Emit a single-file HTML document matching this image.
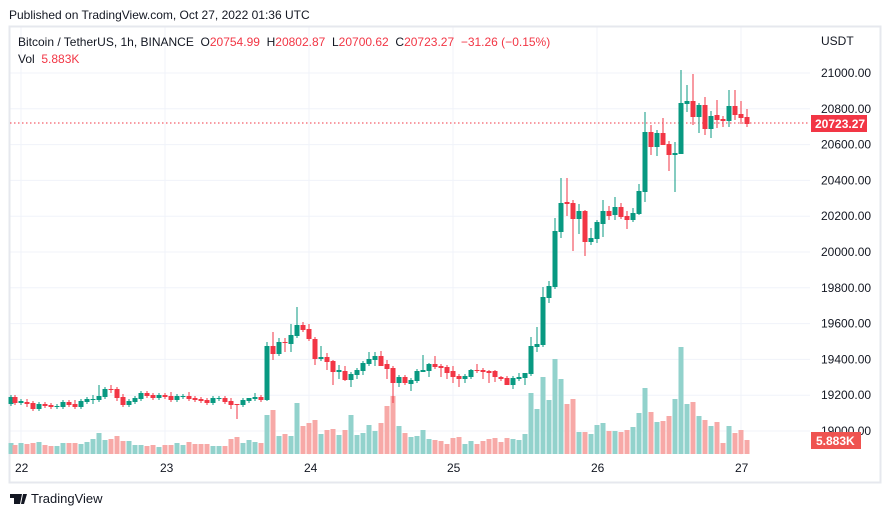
<!DOCTYPE html>
<html><head><meta charset="utf-8"><style>
body{margin:0;background:#fff;width:891px;height:517px;overflow:hidden;font-family:"Liberation Sans",sans-serif;}
svg text{font-family:"Liberation Sans",sans-serif;}
</style></head><body>
<svg id="s" width="891" height="517" xmlns="http://www.w3.org/2000/svg">
<rect x="0" y="0" width="891" height="517" fill="#fff"/>
<g id="grid"></g>
<rect x="9.5" y="26.5" width="871" height="456" fill="none" stroke="#e6e8ee" stroke-width="2"/>
<g id="vol"></g>
<line x1="10" y1="123" x2="810" y2="123" stroke="#f23645" stroke-width="1" stroke-dasharray="1.5,2.5"/>
<g id="cand"></g>
<text x="9" y="19" font-size="12" fill="#131722">Published on TradingView.com, Oct 27, 2022 01:36 UTC</text>
<text x="18" y="46" font-size="12" fill="#131722" xml:space="preserve">Bitcoin / TetherUS, 1h, BINANCE  O<tspan fill="#f23645">20754.99</tspan>  H<tspan fill="#f23645">20802.87</tspan>  L<tspan fill="#f23645">20700.62</tspan>  C<tspan fill="#f23645">20723.27</tspan>  <tspan fill="#f23645">−31.26 (−0.15%)</tspan></text>
<text x="18" y="63" font-size="12" fill="#131722" xml:space="preserve">Vol  <tspan fill="#f23645">5.883K</tspan></text>
<text x="821" y="45" font-size="12" fill="#131722">USDT</text>
<g id="plab" font-size="12" fill="#131722"></g>
<rect x="811" y="115" width="56" height="17" fill="#f23645"/>
<text x="815" y="128" font-size="12" font-weight="bold" fill="#fff">20723.27</text>
<rect x="811" y="432" width="50" height="17" fill="#ef5350"/>
<text x="816" y="445" font-size="12" font-weight="bold" fill="#fff">5.883K</text>
<g font-size="12" fill="#131722">
<text x="15" y="472">22</text><text x="160" y="472">23</text><text x="304" y="472">24</text>
<text x="447" y="472">25</text><text x="591" y="472">26</text><text x="735" y="472">27</text>
</g>
<g transform="translate(10,492)">
<path d="M0 2h8v10h-4v-6h-4z M8 2h4l-2 10h-3z M13 2h4l-3 10h-3z" fill="#131722"/>
</g>
<text x="31" y="503" font-size="13" fill="#131722">TradingView</text>
</svg>
<script>
var NS="http://www.w3.org/2000/svg";
function el(p,t,a){var e=document.createElementNS(NS,t);for(var k in a)e.setAttribute(k,a[k]);p.appendChild(e);return e;}
var grid=document.getElementById('grid'),pl=document.getElementById('plab');
var prices=[21000,20800,20600,20400,20200,20000,19800,19600,19400,19200,19000];
prices.forEach(function(p,i){var y=73+i*35.8;
 el(grid,'line',{x1:10,y1:y,x2:810,y2:y,stroke:'#f0f3fa','stroke-width':1});
 var t=el(pl,'text',{x:821,y:y+4});t.textContent=p.toFixed(2);});
[21,165,309,453,597,741].forEach(function(x){el(grid,'line',{x1:x,y1:27,x2:x,y2:455,stroke:'#f0f3fa','stroke-width':1});});
// x:[dir,top,bot,vtop,high,low]
var D=[
[11,'g',397,404,443],[15,'r',397,403,445],[21,'g',401,403,443],[27,'r',402,404,444,399,407],[33,'r',403,409,443],
[39,'g',404,409,442,402,411],[45,'r',404,406,445],[51,'r',405,407,446],[57,'g',406,407,446],[63,'g',402,407,443,400],
[69,'r',402,405,443],[75,'r',404,407,443,400],[81,'g',401,407,444],[87,'g',399,402,442],[93,'g',399,400,439,395,404],
[99,'g',396,400,433,385],[105,'g',389,397,440,387],[111,'r',389,390,439,385,393],[117,'r',389,398,436,387,401],[123,'r',397,405,441,394],
[129,'g',401,405,441,399,407],[135,'g',398,402,445],[141,'g',393,399,445,391],[147,'r',393,396,446],[153,'r',395,398,445],
[159,'g',395,398,447],[165,'r',395,397,445],[171,'r',396,400,445,392],[177,'g',396,400,443],[183,'g',396,397,445],
[189,'r',396,399,442,392],[195,'r',398,400,444],[201,'r',399,401,444],[207,'r',400,403,444],[213,'g',398,403,446,396,405],
[219,'g',398,399,446],[225,'r',398,402,446],[231,'r',401,405,439,398,409],[237,'r',404,405,437,405,419],[243,'g',400,405,443],
[249,'g',398,401,440,403],[255,'g',397,399,442,393],[261,'r',397,400,443,395],[267,'g',346,400,415,342,401],[273,'r',346,354,410,332,360],
[279,'g',342,354,436,338],[285,'r',342,343,434,338,352],[291,'g',335,344,436,324,352],[297,'g',325,336,403,307],[303,'r',325,330,426,322],
[309,'r',329,339,423,324],[315,'r',339,359,420,337,365],[321,'g',357,359,434,346,361],[327,'r',357,362,430,353,370],[333,'r',361,372,429,360,385],
[339,'g',370,372,435,365,379],[345,'r',371,380,430,366,381],[351,'g',374,380,415,372,387],[357,'g',370,375,435,368,379],[363,'g',363,371,433,361,375],
[369,'g',359,364,425,352],[375,'g',356,360,431,352,366],[381,'r',356,366,423,351,366],[387,'r',364,369,406,360,379],[393,'r',368,383,396,366,403],
[399,'g',377,383,426,375,387],[405,'r',377,383,433],[411,'g',380,384,437,378,391],[417,'g',371,381,436,369],[423,'g',370,372,430,355,372],
[429,'g',364,371,439,363,377],[435,'r',364,367,440,356],[441,'r',366,368,441,364,377],[447,'r',367,373,444,365,379],[453,'r',371,377,438,366,383],
[459,'r',376,379,437,374,387],[465,'g',376,379,444,374,383],[471,'g',370,377,441,369],[477,'r',370,371,444,364],[483,'r',370,372,441,368,379],
[489,'r',371,373,439,370,383],[495,'r',371,377,438,370,382],[501,'r',377,379,442,376,381],[507,'r',378,385,438,376,385],[513,'g',378,385,439,376,389],
[519,'g',377,379,440,373],[525,'g',373,378,434,373,385],[531,'g',346,374,393,337],[537,'g',344,347,409,327,352],[543,'g',297,345,377,287],
[549,'g',286,298,400,281,303],[555,'g',231,287,359,218],[561,'g',203,232,379,178,238],[567,'r',202,204,404,178,216],[573,'r',203,219,399,200,251],
[579,'g',211,219,432,204,234],[585,'r',211,242,432,210,256],[591,'g',238,242,434,228,245],[597,'g',222,239,425,220,243],[603,'g',211,224,423,200,237],
[609,'r',211,216,431,206,220],[615,'g',207,215,431,197,220],[621,'r',207,217,432,203,219],[627,'r',216,220,430,211,229],[633,'g',213,220,427,208,222],
[639,'g',191,214,413,184,215],[645,'g',132,192,388,112,202],[651,'r',132,147,412,125,155],[657,'g',133,147,422,130,156],[663,'r',133,145,421,118,145],
[669,'r',144,155,416,141,171],[675,'g',153,155,399,142,192],[681,'g',103,154,347,70,154],[687,'g',101,104,404,85,112],[693,'r',101,117,402,74,125],
[699,'g',105,117,416,103,133],[705,'r',105,129,420,97,135],[711,'g',116,129,426,111,138],[717,'r',115,120,422,100,128],[723,'r',119,121,443,116,127],
[729,'g',106,121,426,90,127],[735,'r',106,115,433,90,120],[741,'r',114,118,430,101,124],[747,'r',117,124,440,109,127]
];
var vg=document.getElementById('vol'),cg=document.getElementById('cand');
D.forEach(function(d){
 var x=d[0],g=d[1]=='g',top=d[2],bot=d[3],vt=d[4];
 var hi=d.length>5?d[5]:top-2,lo=d.length>6?d[6]:bot+2;
 if(hi>top)hi=top; if(lo<bot)lo=bot;
 var c=g?'#089981':'#f23645';
 el(vg,'rect',{x:x-2.5,y:vt,width:5,height:454-vt,fill:g?'#92d2cc':'#f7a9a7'});
 el(cg,'line',{x1:x,y1:hi,x2:x,y2:lo,stroke:c,'stroke-width':1});
 el(cg,'rect',{x:x-2.5,y:top,width:5,height:Math.max(1,bot-top),fill:c});
});
</script>
</body></html>
